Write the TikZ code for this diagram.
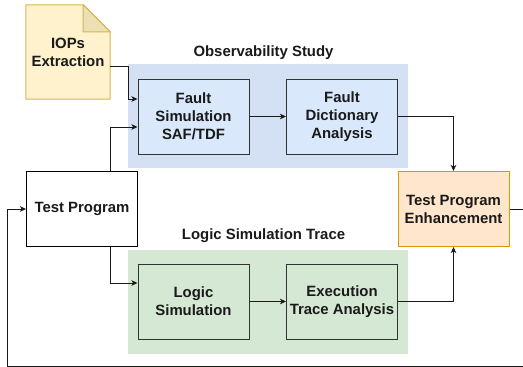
\documentclass[tikz,border=0pt]{standalone}
\usepackage{fontspec}
\setmainfont{Liberation Sans}
\usetikzlibrary{arrows.meta}
\definecolor{txt}{HTML}{1A1A1A}
\definecolor{strk}{HTML}{333333}
\definecolor{bluegrpfill}{HTML}{D4E1F5}
\definecolor{blueboxfill}{HTML}{DAE8FC}
\definecolor{greengrpfill}{HTML}{D5E8D4}
\definecolor{greenboxfill}{HTML}{D5E8D4}
\definecolor{notefill}{HTML}{FFF2CC}
\definecolor{notestroke}{HTML}{D6B656}
\definecolor{notefold}{HTML}{EDE0B4}
\definecolor{enhfill}{HTML}{FFE6CC}
\definecolor{enhstroke}{HTML}{D79B00}
\definecolor{loopc}{HTML}{555555}
\tikzset{
  lbl/.style={font=\bfseries\fontsize{14.9}{18}\selectfont, text=txt, align=center, inner sep=0pt},
  box/.style={lbl, draw=strk, line width=1pt, minimum width=111pt, minimum height=75pt},
  grp/.style={draw=none, minimum width=280pt, minimum height=104pt, inner sep=0pt},
  conn/.style={draw=txt, line width=1pt, -{Stealth[length=6pt,width=5.5pt,inset=1.5pt]}},
}
\begin{document}
\begin{tikzpicture}[x=1pt,y=-1pt]
\clip (0,0) rectangle (523,367);
\fill[white] (0,0) rectangle (523,367);

% groups
\node[grp, fill=bluegrpfill] (obs) at (268,116) {};
\node[grp, fill=greengrpfill] (lst) at (268,302) {};
\node[lbl] (obst) at (263.5,53) {Observability Study};
\node[lbl] (lstt) at (263.5,235.5) {Logic Simulation Trace};

% IOPs note
\node[lbl, minimum width=84pt, minimum height=94pt] (iops) at (68,52) {IOPs\\Extraction};
\filldraw[fill=notefill, draw=notestroke, line width=1pt]
  (iops.north west) -- ([xshift=-27pt]iops.north east) -- ([yshift=-27pt]iops.north east)
  -- (iops.south east) -- (iops.south west) -- cycle;
\filldraw[fill=notefold, draw=notestroke, line width=1pt]
  ([xshift=-27pt]iops.north east) -- ([xshift=-27pt,yshift=-27pt]iops.north east) -- ([yshift=-27pt]iops.north east) -- cycle;
\node[lbl] at (iops.center) {IOPs\\Extraction};

% boxes
\node[box, fill=blueboxfill] (fs) at (193.5,116.5) {Fault\\Simulation\\SAF/TDF};
\node[box, fill=blueboxfill] (fd) at (342,116.5) {Fault\\Dictionary\\Analysis};
\node[box, fill=white, draw=black] (tp) at (82,209) {Test Program};
\node[box, fill=enhfill, draw=enhstroke] (enh) at (453.5,209) {Test Program\\Enhancement};
\node[box, fill=greenboxfill] (ls) at (193.5,301.5) {Logic\\Simulation};
\node[box, fill=greenboxfill] (ex) at (342,301.5) {Execution\\Trace Analysis};

% connectors
\draw[conn] ([yshift=-14pt]iops.east) -- ++(18,0) |- ([yshift=17.5pt]fs.west);
\draw[conn] ([xshift=28pt]tp.north) |- ([yshift=-10.5pt]fs.west);
\draw[conn] (fs.east) -- (fd.west);
\draw[conn] (fd.east) -| (enh.north);
\draw[conn] ([xshift=28pt]tp.south) |- ([yshift=18.5pt]ls.west);
\draw[conn] (ls.east) -- (ex.west);
\draw[conn] (ex.east) -| (enh.south);
\draw[conn] (enh.east) -- (527,209) -- (527,366) -- (7.5,366) |- (tp.west);
\end{tikzpicture}
\end{document}
